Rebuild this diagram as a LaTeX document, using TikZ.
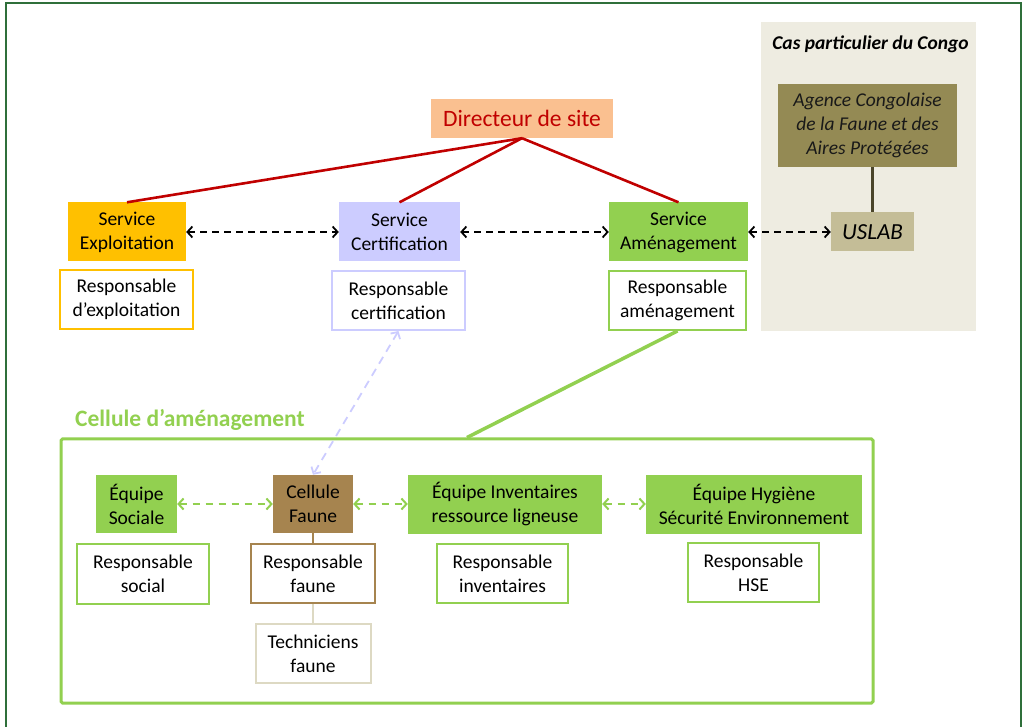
\documentclass[tikz,border=0pt]{standalone}
\usepackage{fontspec}
\setmainfont{Carlito}
\usetikzlibrary{arrows.meta}

\definecolor{dirfill}{HTML}{FAC090}
\definecolor{dirred}{HTML}{C00000}
\definecolor{exploit}{HTML}{FFC000}
\definecolor{certif}{HTML}{CCCCFF}
\definecolor{amgreen}{HTML}{92D050}
\definecolor{olive}{HTML}{948A54}
\definecolor{uslabfill}{HTML}{C4BD97}
\definecolor{panelfill}{HTML}{EEECE1}
\definecolor{faune}{HTML}{A6844F}
\definecolor{techborder}{HTML}{DDD9C3}
\definecolor{agline}{HTML}{4A452A}
\definecolor{outergreen}{HTML}{2F6F3A}

\begin{document}
\begin{tikzpicture}[x=1pt,y=-1pt,
  >={Straight Barb[length=5pt,width=11pt]},
  txt/.style={font=\fontsize{19.5}{24}\selectfont},
  fillbox/.style={txt, inner sep=0pt, align=center, text=black},
  framebox/.style={txt, inner sep=0pt, align=center, text=black, fill=white, line width=2pt},
  dirline/.style={draw=dirred, line width=2.6pt},
  blackarrow/.style={<->, draw=black, line width=1.8pt, dash pattern=on 7pt off 5pt},
  greenarrow/.style={<->, draw=amgreen, line width=2pt, dash pattern=on 7pt off 6pt},
  lavarrow/.style={<->, draw=certif, line width=1.8pt, dash pattern=on 8pt off 6pt},
]
\useasboundingbox (0,0) rectangle (1029,727);

% outer frame (open at the bottom edge)
\draw[outergreen, line width=1.6pt] (6,740) -- (6,3) -- (1021,3) -- (1021,740);

% Congo panel
\node[fill=panelfill, inner sep=0pt, minimum width=215pt, minimum height=309pt] (panel) at (868.5,176.5) {};
\node[font=\fontsize{19.5}{23}\selectfont\bfseries\itshape, anchor=base] (paneltitle) at (870.5,49.5) {Cas particulier du Congo};
\node[fillbox, fill=olive, text=black!90, font=\fontsize{19.5}{24}\selectfont\itshape,
      minimum width=179pt, minimum height=83pt] (agence) at (867.5,125.5)
      {Agence Congolaise\\de la Faune et des\\Aires Protégées};
\node[fillbox, fill=uslabfill, font=\fontsize{23}{27}\selectfont\itshape,
      minimum width=83pt, minimum height=39pt] (uslab) at (872.5,232) {USLAB};
\draw[agline, line width=2.2pt] (uslab.north |- agence.south) -- (uslab.north);

% site management
\node[fillbox, fill=dirfill, text=dirred, font=\fontsize{23.5}{28}\selectfont,
      minimum width=182pt, minimum height=39pt] (dir) at (522,118.5) {Directeur de site};

\node[fillbox, fill=exploit, minimum width=118pt, minimum height=59pt] (se) at (127,232) {Service\\Exploitation};
\node[fillbox, fill=certif, minimum width=121pt, minimum height=59pt] (sc) at (399.5,232) {Service\\Certification};
\node[fillbox, fill=amgreen, minimum width=139pt, minimum height=59pt] (sa) at (678.5,232) {Service\\Aménagement};

\node[framebox, draw=exploit, minimum width=133pt, minimum height=59pt] (rse) at (126.5,299.5) {Responsable\\d’exploitation};
\node[framebox, draw=certif, minimum width=133pt, minimum height=59pt] (rsc) at (398.5,300.5) {Responsable\\certification};
\node[framebox, draw=amgreen, minimum width=137pt, minimum height=59pt] (rsa) at (677.5,300.5) {Responsable\\aménagement};

\draw[dirline] (dir.south) -- (se.north);
\draw[dirline] (dir.south) -- (sc.north);
\draw[dirline] (dir.south) -- (sa.north);

\draw[blackarrow] (se.east) -- (sc.west);
\draw[blackarrow] (sc.east) -- (sa.west);
\draw[blackarrow] (sa.east) -- (uslab.west);

% management cell
\node[draw=amgreen, line width=3pt, rounded corners=1.5pt, inner sep=0pt,
      minimum width=812pt, minimum height=264pt] (cell) at (467,571) {};
\node[font=\fontsize{23.5}{28}\selectfont\bfseries, text=amgreen, anchor=base west, inner sep=0pt] (celltitle) at (75,427) {Cellule d’aménagement};
\draw[amgreen, line width=3.5pt] (rsa.south) -- (cell.north);

\node[fillbox, fill=amgreen, minimum width=81pt, minimum height=58pt] (es) at (136.5,504) {Équipe\\Sociale};
\node[fillbox, fill=faune, minimum width=80pt, minimum height=58pt] (cf) at (313,504) {Cellule\\Faune};
\node[fillbox, fill=amgreen, minimum width=194pt, minimum height=59pt] (ei) at (505,504) {Équipe Inventaires\\ressource ligneuse};
\node[fillbox, fill=amgreen, minimum width=216pt, minimum height=59pt] (eh) at (754,504) {Équipe Hygiène\\Sécurité Environnement};

\node[framebox, draw=amgreen, minimum width=132pt, minimum height=60pt] (rso) at (143,574) {Responsable\\social};
\node[framebox, draw=faune, minimum width=124pt, minimum height=59pt] (rf) at (313,573.5) {Responsable\\faune};
\node[framebox, draw=amgreen, minimum width=131pt, minimum height=59pt] (ri) at (502.5,573.5) {Responsable\\inventaires};
\node[framebox, draw=amgreen, minimum width=131pt, minimum height=59pt] (rh) at (753.5,572.5) {Responsable\\HSE};
\node[framebox, draw=techborder, minimum width=115pt, minimum height=59pt] (tf) at (313,653.5) {Techniciens\\faune};

\draw[faune, line width=2pt] (cf.south) -- (rf.north);
\draw[techborder, line width=2pt] (rf.south) -- (tf.north);

\draw[greenarrow] (es.east) -- (cf.west);
\draw[greenarrow] (cf.east) -- (ei.west);
\draw[greenarrow] (ei.east) -- (eh.west);

\draw[lavarrow] (rsc.south) -- (cf.north);
\end{tikzpicture}
\end{document}
